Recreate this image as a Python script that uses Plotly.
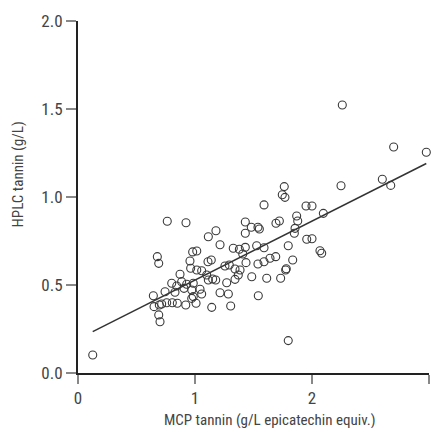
import plotly.graph_objects as go
import numpy as np

# MCP tannin (g/L epicatechin equiv.)
mcp = [0.126, 0.763, 0.923, 0.678, 0.690, 1.114, 1.179, 1.430, 1.430, 1.481,
       1.538, 1.214, 0.980, 1.015, 0.957, 1.111, 1.139, 1.327, 1.379, 1.430,
       1.527, 1.408, 1.436, 0.872, 0.963, 1.015, 1.057, 1.100, 1.151, 1.114,
       1.177, 1.256, 1.293, 1.342, 1.385, 1.342, 1.370, 1.485, 1.271, 1.214,
       1.285, 0.801, 0.844, 0.886, 0.929, 0.985, 0.829, 0.744, 0.906, 0.972,
       1.043, 1.057, 0.644, 0.650, 0.695, 0.715, 0.758, 0.806, 0.849, 0.921,
       0.972, 0.985, 1.009, 1.143, 1.305, 0.690, 0.701, 1.541, 1.538,
       2.259, 2.698, 2.977, 2.248, 2.601, 2.673, 1.763, 1.746, 1.769, 1.590,
       1.949, 2.000, 2.097, 1.869, 1.878, 1.855, 1.849, 1.550, 1.692, 1.721,
       1.955, 2.000, 1.797, 1.590, 2.068, 2.083, 1.590, 1.641, 1.690, 1.835,
       1.775, 1.613, 1.732, 1.797, 1.780]
# HPLC tannin (g/L)
hplc = [0.102, 0.862, 0.854, 0.661, 0.623, 0.774, 0.808, 0.858, 0.794, 0.828,
        0.828, 0.729, 0.688, 0.693, 0.636, 0.632, 0.642, 0.709, 0.703, 0.714,
        0.723, 0.676, 0.627, 0.561, 0.595, 0.585, 0.581, 0.557, 0.534, 0.528,
        0.528, 0.608, 0.614, 0.591, 0.585, 0.532, 0.557, 0.547, 0.513, 0.456,
        0.449, 0.510, 0.494, 0.519, 0.504, 0.510, 0.459, 0.462, 0.481, 0.472,
        0.476, 0.449, 0.439, 0.377, 0.386, 0.392, 0.399, 0.399, 0.396, 0.386,
        0.424, 0.434, 0.396, 0.373, 0.381, 0.330, 0.291, 0.439, 0.619,
        1.523, 1.284, 1.254, 1.064, 1.101, 1.066, 1.059, 1.013, 0.998, 0.955,
        0.949, 0.949, 0.907, 0.892, 0.864, 0.822, 0.794, 0.818, 0.851, 0.864,
        0.760, 0.763, 0.723, 0.712, 0.695, 0.680, 0.632, 0.652, 0.661, 0.642,
        0.585, 0.538, 0.538, 0.184, 0.592]

# regression line
fit_intercept = 0.193
fit_slope = 0.335

x_ticks = [0, 1, 2, 3]
y_ticks = [0.0, 0.5, 1.0, 1.5, 2.0]
y_tick_text = ["0.0", "0.5", "1.0", "1.5", "2.0"]

FONT = "Liberation Sans Narrow, Arial Narrow, Roboto Condensed, Liberation Sans, Arial, sans-serif"

fx = np.array([min(mcp), max(mcp)])
fy = fit_intercept + fit_slope * fx

fig = go.Figure()
fig.add_trace(go.Scatter(
    x=fx, y=fy, mode="lines",
    line=dict(color="#333333", width=1.5),
    showlegend=False, hoverinfo="skip"))
fig.add_trace(go.Scatter(
    x=mcp, y=hplc, mode="markers",
    marker=dict(symbol="circle-open", size=8, color="#3a3a3a",
                line=dict(width=1.1, color="#3a3a3a")),
    cliponaxis=False, showlegend=False))

fig.update_layout(
    width=433, height=428,
    margin=dict(l=78, r=4, t=21, b=55),
    paper_bgcolor="white", plot_bgcolor="white",
    font=dict(family=FONT, color="#444444", size=16),
    xaxis=dict(range=[0, 3], tickvals=x_ticks, ticks="outside", ticklen=9,
               tickwidth=2, tickcolor="#888888", showline=True, linecolor="#222222",
               linewidth=2, showgrid=False, zeroline=False,
               tickfont=dict(size=17, family=FONT, color="#444444")),
    yaxis=dict(range=[0, 2], tickvals=y_ticks, ticktext=y_tick_text, ticks="outside",
               ticklen=10, tickwidth=2, tickcolor="#888888", showline=True,
               linecolor="#222222", linewidth=2, showgrid=False, zeroline=False,
               tickfont=dict(size=17, family=FONT, color="#444444")),
    annotations=[
        dict(text="MCP tannin (g/L epicatechin equiv.)", xref="paper", yref="paper",
             x=0.547, y=-0.133, xanchor="center", yanchor="middle", showarrow=False,
             font=dict(size=15, family=FONT, color="#444444")),
        dict(text="HPLC tannin (g/L)", xref="paper", yref="paper",
             x=-0.17, y=0.565, xanchor="center", yanchor="middle", textangle=-90,
             showarrow=False, font=dict(size=15, family=FONT, color="#444444")),
    ],
)

fig.write_html("out.html")
